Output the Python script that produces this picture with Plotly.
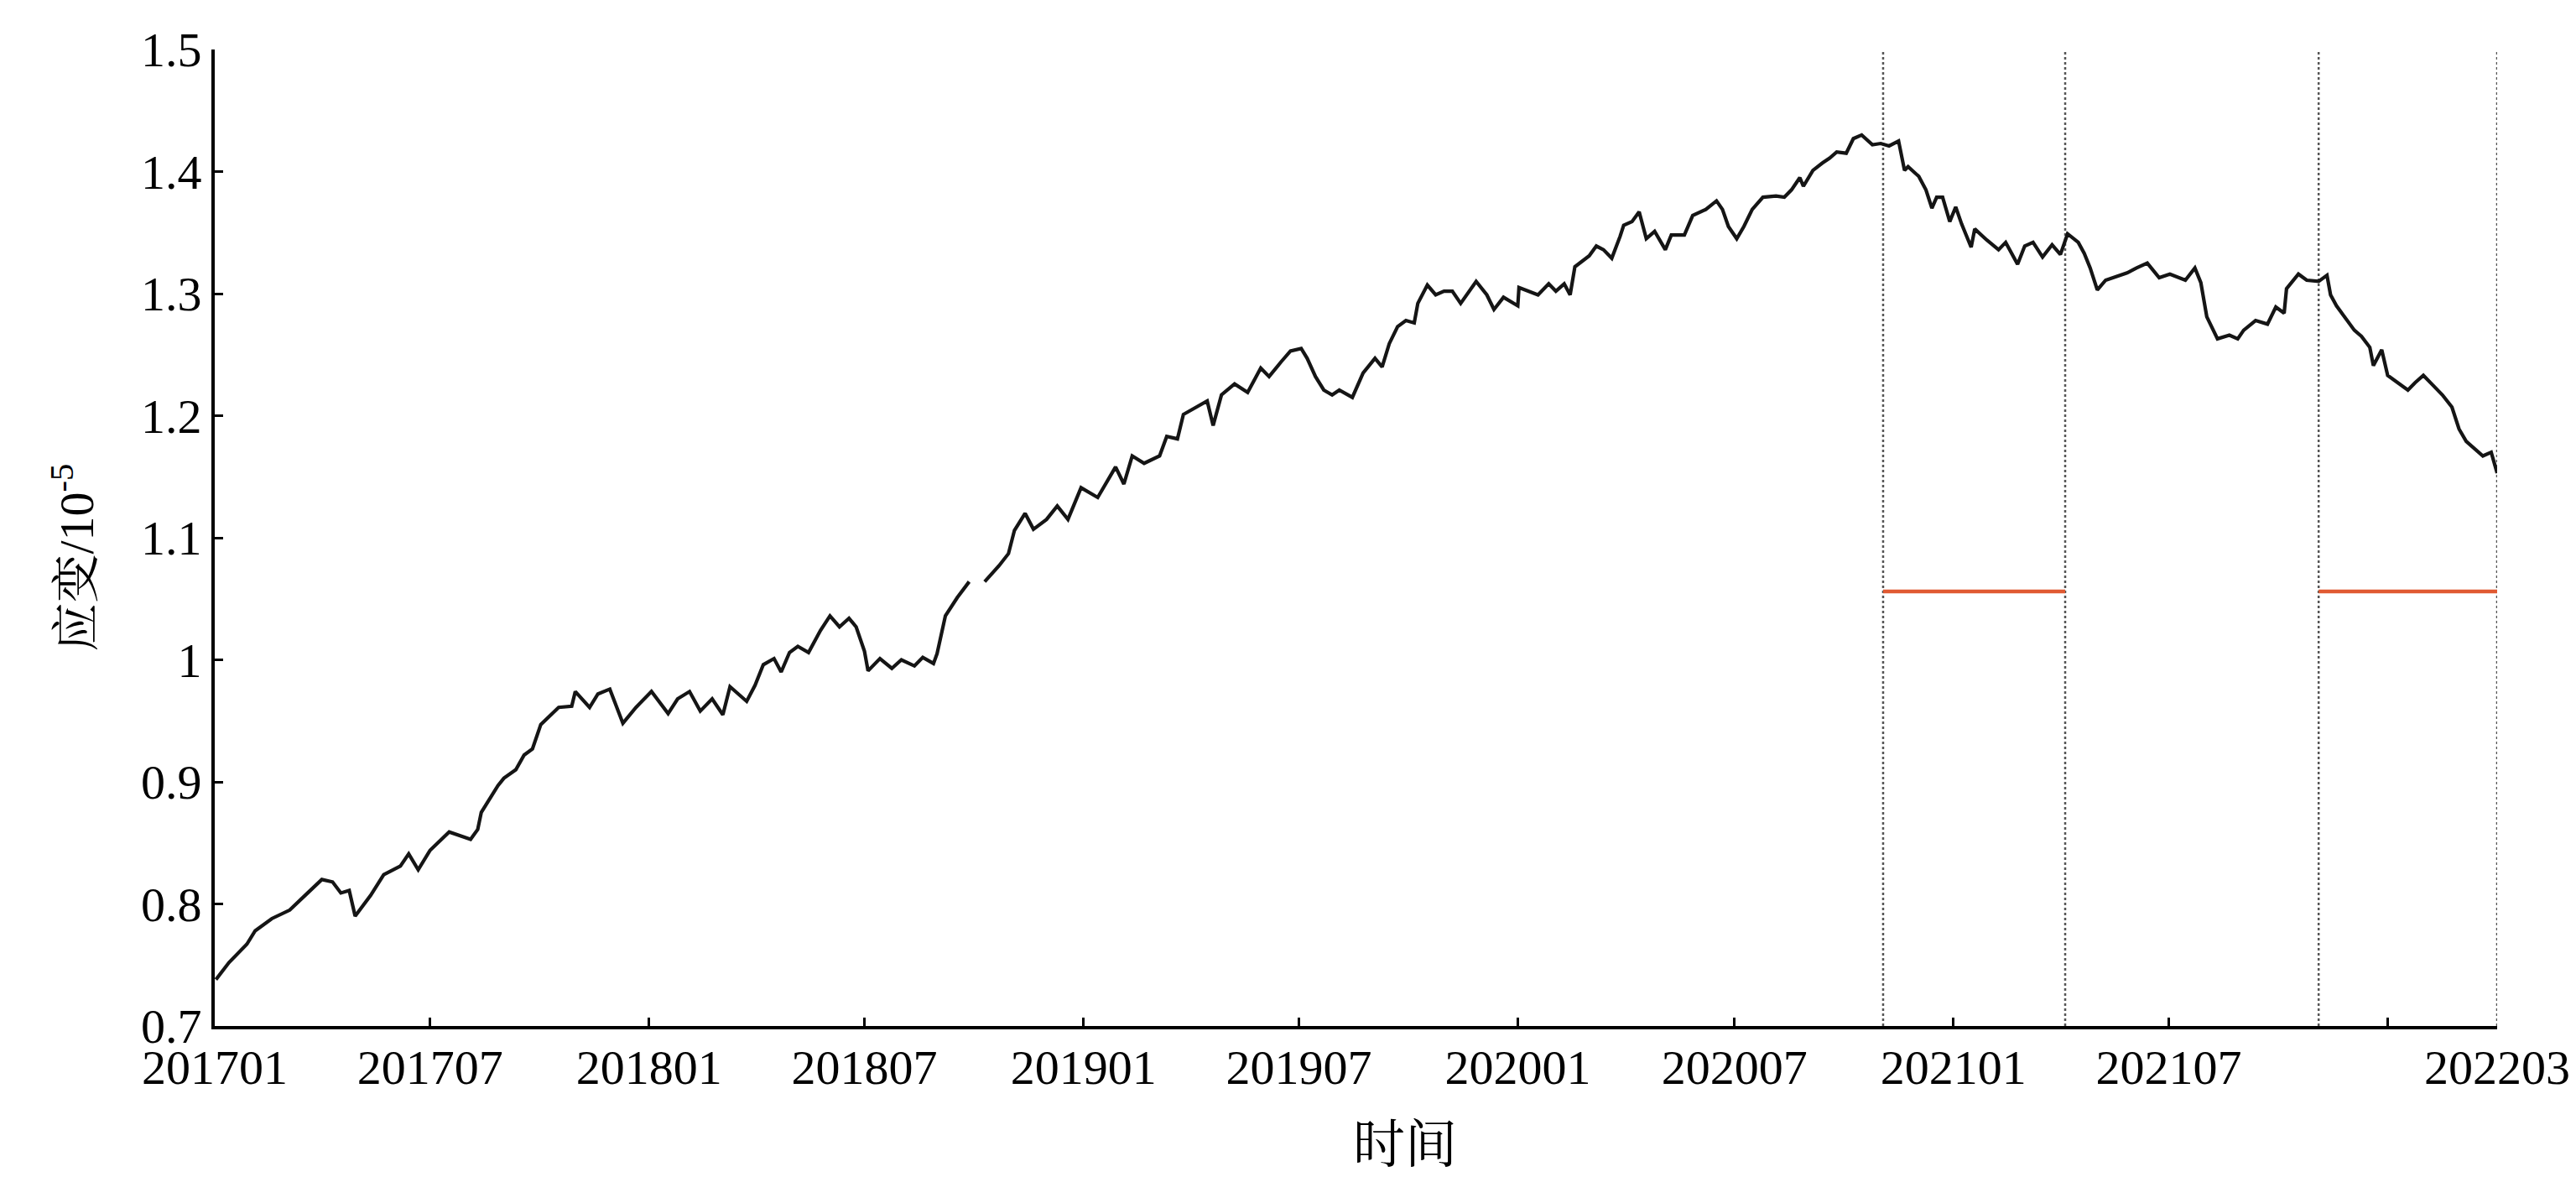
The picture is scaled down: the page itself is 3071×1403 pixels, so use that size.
import pandas as pd
import plotly.graph_objects as go

# ---- data ----
# days since 2017-01-01
days = [1, 12, 27, 34, 48, 63, 77, 90, 99, 106, 113, 118, 131, 142, 156, 163, 171, 181, 197, 207,
        215, 221, 224, 238, 243, 253, 260, 267, 274, 289, 300, 303, 315, 322, 332, 343, 354, 367, 381,
        389, 399, 408, 418, 427, 433, 447, 454, 461, 470, 476, 483, 490, 499, 509, 517, 525, 533, 539,
        546, 549, 559, 569, 577, 588, 595, 604, 607, 614, 624, 634, 640,
        647, 659, 667, 672, 681, 688, 699, 708, 717, 728, 742, 757, 764, 771, 781, 794, 800, 809, 814,
        825, 834, 839, 846, 857, 868, 879, 886, 896, 904, 913, 918, 925, 932, 939, 945, 956, 965, 975,
        981, 987, 994, 1001, 1008, 1011, 1019, 1026, 1033, 1040, 1047, 1060, 1069, 1075, 1083, 1095,
        1096, 1112, 1121, 1127, 1134, 1139, 1143, 1155, 1161, 1167, 1174, 1181, 1184, 1191, 1197, 1203,
        1210, 1219, 1224, 1235, 1242, 1253, 1262, 1267, 1272, 1279, 1285, 1292, 1301, 1312, 1319, 1325,
        1332, 1335, 1343, 1351, 1357, 1363, 1371, 1377, 1384, 1393, 1400, 1407, 1415, 1420, 1423, 1432,
        1438, 1443, 1447, 1452, 1458, 1463, 1468, 1476, 1479, 1489, 1499, 1505, 1515, 1521, 1528, 1536,
        1544, 1551, 1557, 1566, 1571, 1576, 1582, 1589, 1597, 1607, 1615, 1624, 1634, 1643, 1656, 1664,
        1669, 1674, 1683, 1693, 1700, 1705, 1715, 1725, 1732, 1739, 1741, 1751, 1758, 1768, 1775, 1778,
        1783, 1790, 1798, 1804, 1811, 1814, 1821, 1826, 1834, 1843, 1849, 1856, 1864, 1872, 1880, 1886,
        1892, 1899, 1906, 1913, 1918]

strain = [0.738, 0.752, 0.767, 0.778, 0.788, 0.795, 0.808, 0.820, 0.818, 0.809, 0.811, 0.790, 0.807,
          0.824, 0.831, 0.841, 0.828, 0.844, 0.859, 0.856, 0.853, 0.861, 0.875, 0.897, 0.903, 0.910,
          0.922, 0.927, 0.947, 0.961, 0.962, 0.974, 0.961, 0.972, 0.976, 0.948, 0.961, 0.974, 0.956,
          0.968, 0.974, 0.958, 0.968, 0.955, 0.978, 0.966, 0.979, 0.996, 1.001, 0.990, 1.006, 1.011,
          1.006, 1.024, 1.036, 1.027, 1.034, 1.027, 1.007, 0.991, 1.001, 0.993, 1.000, 0.995, 1.002,
          0.997, 1.005, 1.036, 1.051, 1.064, None,
          1.064, 1.077, 1.087, 1.106, 1.120, 1.107, 1.115, 1.126, 1.115, 1.141, 1.133, 1.158, 1.144,
          1.167, 1.161, 1.167, 1.183, 1.181, 1.201, 1.207, 1.212, 1.192, 1.217, 1.226, 1.219, 1.239,
          1.232, 1.244, 1.253, 1.255, 1.247, 1.232, 1.221, 1.217, 1.221, 1.215, 1.235, 1.247, 1.240,
          1.259, 1.273, 1.278, 1.276, 1.292, 1.307, 1.299, 1.302, 1.302, 1.292, 1.310, 1.299, 1.287,
          1.297, 1.290, 1.305, 1.299, 1.308, 1.302, 1.308, 1.299, 1.322, 1.331, 1.339, 1.336, 1.329,
          1.347, 1.356, 1.359, 1.367, 1.345, 1.351, 1.336, 1.348, 1.348, 1.364, 1.369, 1.376, 1.369,
          1.355, 1.345, 1.355, 1.369, 1.379, 1.380, 1.379, 1.385, 1.395, 1.388, 1.401, 1.407, 1.411,
          1.416, 1.415, 1.427, 1.430, 1.422, 1.423, 1.421, 1.425, 1.401, 1.404, 1.396, 1.385, 1.370,
          1.379, 1.379, 1.359, 1.371, 1.357, 1.338, 1.353, 1.344, 1.336, 1.342, 1.324, 1.339, 1.342,
          1.330, 1.340, 1.332, 1.349, 1.342, 1.333, 1.321, 1.303, 1.311, 1.314, 1.317, 1.321, 1.325,
          1.313, 1.316, 1.311, 1.321, 1.309, 1.281, 1.263, 1.266, 1.263, 1.270, 1.278, 1.275, 1.289,
          1.284, 1.304, 1.316, 1.311, 1.310, 1.315, 1.299, 1.290, 1.281, 1.270, 1.265, 1.256, 1.241,
          1.254, 1.233, 1.227, 1.221, 1.227, 1.233, 1.225, 1.217, 1.207, 1.189, 1.179, 1.173, 1.167,
          1.170, 1.153]

# marked periods (start, end) and their reference level
period_starts = ["2020-11-03", "2021-11-04"]
period_ends = ["2021-04-05", "2022-04-03"]
period_level = 1.056

tick_dates = ["2017-01-01", "2017-07-01", "2018-01-01", "2018-07-01", "2019-01-01", "2019-07-01",
              "2020-01-01", "2020-07-01", "2021-01-01", "2021-07-01", "2022-01-01", "2022-04-03"]
tick_labels = ["201701", "201707", "201801", "201807", "201901", "201907",
               "202001", "202007", "202101", "202107", "", "202203"]
y_ticks = [0.7, 0.8, 0.9, 1.0, 1.1, 1.2, 1.3, 1.4, 1.5]
y_labels = ["0.7", "0.8", "0.9", "1", "1.1", "1.2", "1.3", "1.4", "1.5"]

x_start = "2017-01-01"
x_end = "2022-04-03"
x_title = "时间"
y_title = "应变/10<sup>-5</sup>"

# ---- figure ----
base = pd.Timestamp(x_start)
dates = [base + pd.Timedelta(days=d) for d in days]

fig = go.Figure()

# vertical dotted markers
for d in period_starts + period_ends:
    fig.add_trace(go.Scatter(x=[d, d], y=[0.7, 1.5], mode="lines",
                             line=dict(color="#555555", width=2.5, dash="dot"),
                             hoverinfo="skip", showlegend=False))

fig.add_trace(go.Scatter(x=dates, y=strain, mode="lines",
                         line=dict(color="#151515", width=4.2),
                         connectgaps=False, showlegend=False))

for s, e in zip(period_starts, period_ends):
    fig.add_trace(go.Scatter(x=[s, e], y=[period_level, period_level], mode="lines",
                             line=dict(color="#E05A32", width=4.5),
                             showlegend=False))

serif = "Liberation Serif, Times New Roman, Noto Serif CJK SC, Noto Sans CJK SC, serif"

fig.update_layout(
    width=3071, height=1403,
    paper_bgcolor="white", plot_bgcolor="white",
    margin=dict(l=248, r=102, t=51, b=188),
    font=dict(family=serif, size=58, color="black"),
    xaxis=dict(type="date", range=[x_start, x_end], tickmode="array",
               tickvals=tick_dates, ticktext=tick_labels,
               ticks="inside", ticklen=10, tickwidth=3, tickcolor="black",
               showline=True, linecolor="black", linewidth=4, showgrid=False, zeroline=False,
               ticklabelstandoff=-5,
               tickfont=dict(family=serif, size=58)),
    yaxis=dict(range=[0.7, 1.5], tickmode="array", tickvals=y_ticks, ticktext=y_labels,
               ticks="inside", ticklen=10, tickwidth=3, tickcolor="black",
               showline=True, linecolor="black", linewidth=4, showgrid=False, zeroline=False,
               tickfont=dict(family=serif, size=58)),
    annotations=[
        dict(text=x_title, xref="paper", yref="paper", x=0.5215, y=-0.122,
             xanchor="center", yanchor="middle", showarrow=False,
             font=dict(family=serif, size=62)),
        dict(text=y_title, xref="paper", yref="paper", x=-0.062, y=0.48,
             xanchor="center", yanchor="middle", showarrow=False, textangle=-90,
             font=dict(family=serif, size=58)),
    ],
)

fig.write_html("out.html")
